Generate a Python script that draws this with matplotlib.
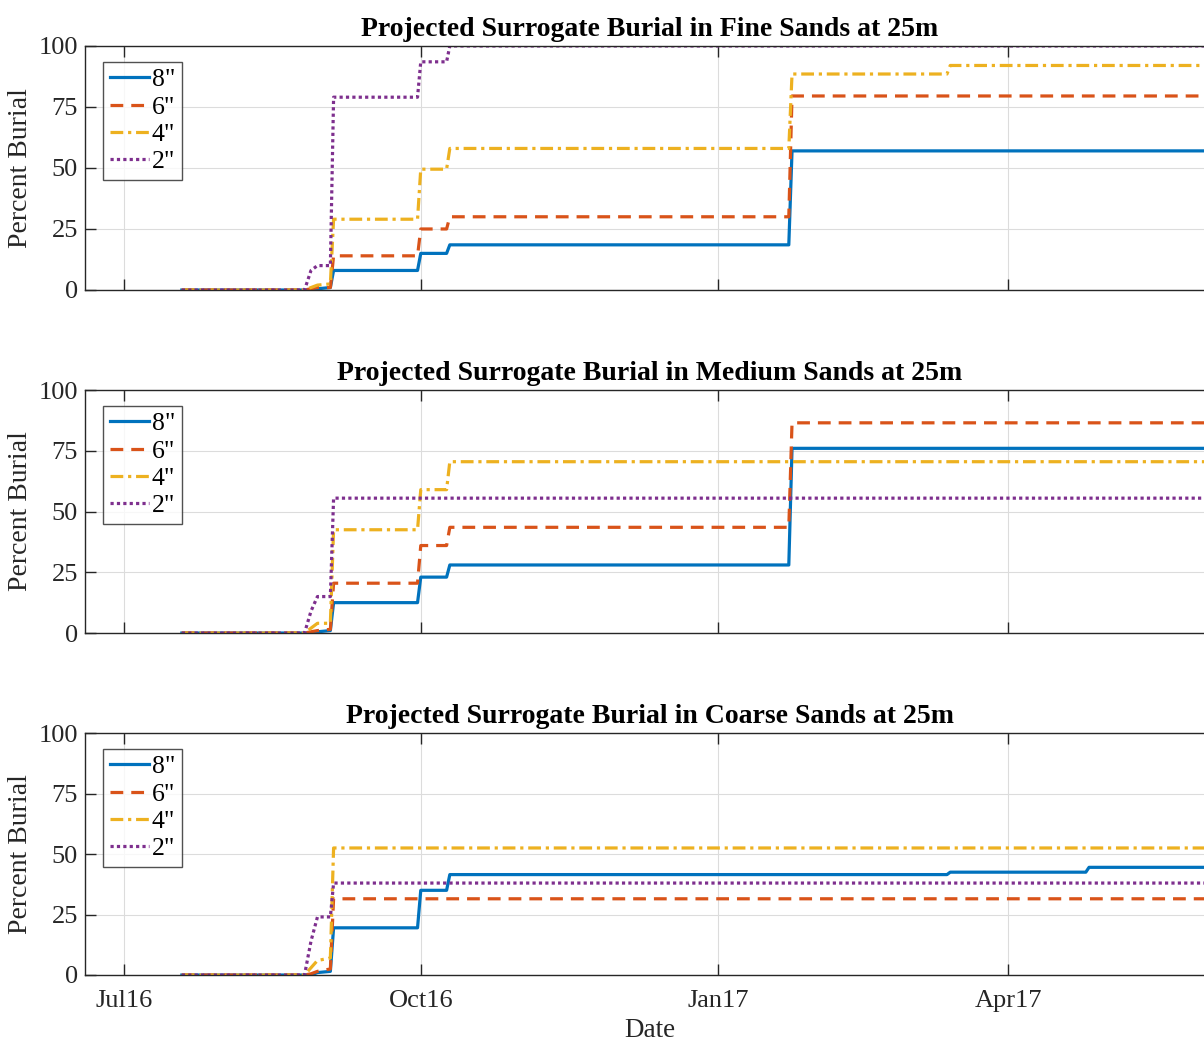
import matplotlib
matplotlib.use("Agg")
import matplotlib.pyplot as plt
import numpy as np

plt.rcParams['font.family'] = ['Liberation Serif', 'DejaVu Serif']

# Breakpoint dates shared by every series
dates = np.array([
    "2016-07-19", "2016-08-26", "2016-08-28", "2016-08-30", "2016-09-03",
    "2016-09-04", "2016-09-30", "2016-10-01", "2016-10-09", "2016-10-10",
    "2017-01-23", "2017-01-24", "2017-03-13", "2017-03-14", "2017-04-25",
    "2017-04-26", "2017-06-30"], dtype="datetime64[D]")

sizes = ['8"', '6"', '4"', '2"']

fine_8 = [0, 0, 0, 0.5, 1, 8, 8, 15, 15, 18.5, 18.5, 57, 57, 57, 57, 57, 57]
fine_6 = [0, 0, 0.5, 1, 1, 14, 14, 25, 25, 30, 30, 79.5, 79.5, 79.5, 79.5, 79.5, 79.5]
fine_4 = [0, 0, 1, 2, 2.5, 29, 29, 49.5, 49.5, 58, 58, 88.5, 88.5, 92, 92, 92, 92]
fine_2 = [0, 0, 8, 10, 10, 79, 79, 93.5, 93.5, 100, 100, 100, 100, 100, 100, 100, 100]

medium_8 = [0, 0, 0, 0.5, 1, 12.5, 12.5, 23, 23, 28, 28, 76, 76, 76, 76, 76, 76]
medium_6 = [0, 0, 0.5, 1, 1.5, 20.5, 20.5, 36, 36, 43.5, 43.5, 86.5, 86.5, 86.5, 86.5, 86.5, 86.5]
medium_4 = [0, 0, 2, 4, 4, 42.5, 42.5, 59, 59, 70.5, 70.5, 70.5, 70.5, 70.5, 70.5, 70.5, 70.5]
medium_2 = [0, 0, 9, 15, 15, 55.5, 55.5, 55.5, 55.5, 55.5, 55.5, 55.5, 55.5, 55.5, 55.5, 55.5, 55.5]

coarse_8 = [0, 0, 0, 1, 1.5, 19.5, 19.5, 35, 35, 41.5, 41.5, 41.5, 41.5, 42.5, 42.5, 44.5, 44.5]
coarse_6 = [0, 0, 0.5, 1.5, 2.5, 31.5, 31.5, 31.5, 31.5, 31.5, 31.5, 31.5, 31.5, 31.5, 31.5, 31.5, 31.5]
coarse_4 = [0, 0, 3, 6, 7, 52.5, 52.5, 52.5, 52.5, 52.5, 52.5, 52.5, 52.5, 52.5, 52.5, 52.5, 52.5]
coarse_2 = [0, 0, 14, 24, 24, 38, 38, 38, 38, 38, 38, 38, 38, 38, 38, 38, 38]

panels = [
    ("Projected Surrogate Burial in Fine Sands at 25m", [fine_8, fine_6, fine_4, fine_2]),
    ("Projected Surrogate Burial in Medium Sands at 25m", [medium_8, medium_6, medium_4, medium_2]),
    ("Projected Surrogate Burial in Coarse Sands at 25m", [coarse_8, coarse_6, coarse_4, coarse_2]),
]

tick_dates = np.array(["2016-07-01", "2016-10-01", "2017-01-01", "2017-04-01"], dtype="datetime64[D]")
tick_labels = ["Jul16", "Oct16", "Jan17", "Apr17"]
y_ticks = [0, 25, 50, 75, 100]

colors = ["#0072BD", "#D95319", "#EDB120", "#7E2F8E"]
styles = ["-", (0, (4, 2.5)), (0, (4, 1.5, 1, 1.5)), (0, (1, 1))]

fig = plt.figure(figsize=(12.04, 10.42), dpi=100)
positions = [
    (0.0706, 0.7217, 0.9385, 0.2342),
    (0.0706, 0.3925, 0.9385, 0.2332),
    (0.0706, 0.0643, 0.9385, 0.2322),
]

xmin = np.datetime64("2016-06-19")
xmax = np.datetime64("2017-06-04")

for i, ((title, series), pos) in enumerate(zip(panels, positions)):
    ax = fig.add_axes(pos)
    for vals, c, ls, lab in zip(series, colors, styles, sizes):
        ax.plot(dates, vals, color=c, linestyle=ls, linewidth=2.3, label=lab)
    ax.set_xlim(xmin, xmax)
    ax.set_ylim(0, 100)
    ax.set_xticks(tick_dates)
    if i == len(panels) - 1:
        ax.set_xticklabels(tick_labels)
        ax.set_xlabel("Date", fontsize=19.5, color="#262626", labelpad=4)
    else:
        ax.set_xticklabels([])
    ax.set_yticks(y_ticks)
    ax.grid(True, color="#dcdcdc", linewidth=0.8)
    ax.set_axisbelow(True)
    ax.tick_params(direction="in", length=8, width=1, top=True, right=True,
                   labelsize=19, colors="#262626")
    ax.tick_params(axis="x", pad=11)
    ax.tick_params(axis="y", pad=5)
    for sp in ax.spines.values():
        sp.set_color("#262626")
        sp.set_linewidth(1)
    ax.set_title(title, fontsize=20, fontweight="bold", pad=7)
    ax.set_ylabel("Percent Burial", fontsize=20, color="#262626", labelpad=4)
    leg = ax.legend(loc="upper left", bbox_to_anchor=(0.016, 0.935), fontsize=18.5,
                    frameon=True, fancybox=False, edgecolor="#262626",
                    handlelength=1.55, handletextpad=0.1, borderpad=0.25,
                    labelspacing=0.17, borderaxespad=0.0)
    leg.get_frame().set_linewidth(1)

fig.savefig("out.png", dpi=100)
